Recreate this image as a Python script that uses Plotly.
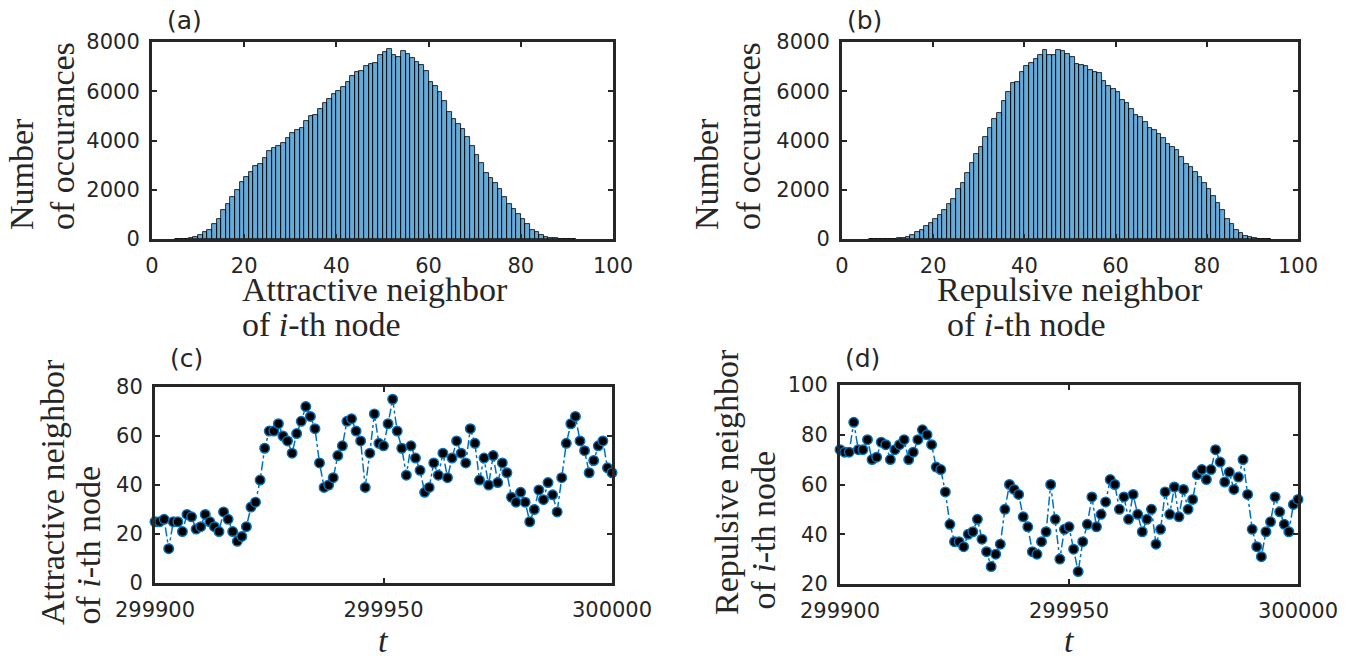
import plotly.graph_objects as go

W, H = 1367, 656
PAGE_OFFSET = 8  # browser default body margin around the figure

# ---------------- data ----------------
attr_bin_left = list(range(5, 92))
attr_counts = [5, 10, 20, 35, 100, 180, 270, 380, 620, 820,
               1160, 1440, 1710, 2010, 2330, 2530, 2740, 2970, 3040, 3280,
               3560, 3690, 3760, 3900, 4100, 4310, 4420, 4510, 4790, 4990,
               5020, 5270, 5540, 5680, 5880, 6020, 6160, 6390, 6630, 6770,
               6840, 7020, 7110, 7150, 7460, 7590, 7700, 7480, 7390, 7650,
               7520, 7340, 7180, 7050, 6840, 6390, 6220, 5950, 5610, 5160,
               4880, 4650, 4450, 4140, 3760, 3420, 3080, 2670, 2460, 2260,
               2050, 1710, 1440, 1230, 1030, 820, 590, 370, 270, 180,
               100, 60, 30, 15, 8, 4, 2]

rep_bin_left = list(range(6, 94))
rep_counts = [3, 5, 5, 8, 10, 15, 25, 40, 100, 180,
              270, 370, 510, 640, 820, 960, 1160, 1440, 1640, 2050,
              2280, 2670, 3080, 3460, 3730, 4140, 4510, 4860, 5130, 5610,
              5950, 6330, 6390, 6800, 7020, 7150, 7320, 7480, 7660, 7460,
              7480, 7690, 7620, 7520, 7390, 7110, 7070, 7020, 6880, 6800,
              6740, 6430, 6220, 6090, 5950, 5650, 5510, 5270, 5020, 4960,
              4750, 4510, 4420, 4280, 4100, 3870, 3730, 3630, 3350, 3050,
              2940, 2740, 2530, 2280, 2050, 1740, 1460, 1160, 820, 620,
              370, 230, 140, 70, 30, 15, 8, 4]

t_values = list(range(299900, 300001))

attr_series = [25, 25, 26, 14, 25, 25, 21, 28, 27, 22,
               23, 28, 25, 23, 21, 29, 26, 21, 17, 19,
               23, 31, 33, 42, 55, 62, 62, 65, 60, 58,
               53, 61, 66, 72, 68, 63, 49, 39, 40, 43,
               52, 56, 66, 67, 62, 58, 39, 53, 69, 57,
               56, 65, 75, 62, 55, 44, 56, 51, 46, 37,
               39, 49, 44, 53, 43, 51, 58, 53, 49, 63,
               57, 42, 51, 40, 52, 41, 49, 45, 35, 33,
               37, 33, 25, 30, 38, 34, 41, 36, 29, 43,
               57, 65, 68, 58, 54, 45, 50, 56, 58, 47, 45]

rep_series = [74, 73, 73, 85, 74, 74, 78, 70, 71, 77,
              76, 70, 74, 76, 78, 70, 73, 78, 82, 80,
              76, 67, 66, 57, 44, 37, 37, 35, 40, 41,
              46, 38, 33, 27, 32, 36, 50, 60, 58, 56,
              47, 43, 33, 32, 37, 41, 60, 46, 30, 42,
              43, 34, 25, 37, 44, 55, 43, 48, 53, 62,
              60, 50, 55, 46, 56, 48, 41, 46, 50, 36,
              42, 57, 48, 59, 47, 58, 50, 54, 64, 66,
              62, 66, 74, 69, 61, 65, 58, 63, 70, 56,
              42, 35, 31, 41, 45, 55, 49, 44, 41, 52, 54]

hist_y_ticks = [0, 2000, 4000, 6000, 8000]
hist_x_ticks = [0, 20, 40, 60, 80, 100]
time_ticks = [299900, 299950, 300000]
attr_y_ticks = [0, 20, 40, 60, 80]
rep_y_ticks = [20, 40, 60, 80, 100]

# ---------------- styling ----------------
BLUE = "#0072BD"
FRAME = "#262626"
TICKFONT = dict(family="DejaVu Sans", size=21, color=FRAME)
SERIF = dict(family="Liberation Serif", size=34, color="#262626")


def px_x(x):
    return (x - PAGE_OFFSET) / W


def px_y(y):
    return 1 - (y - PAGE_OFFSET) / H


def axis(domain_px, rng, tickvals, is_x):
    d = [px_x(domain_px[0]), px_x(domain_px[1])] if is_x else [px_y(domain_px[1]), px_y(domain_px[0])]
    return dict(domain=d, range=rng, tickvals=tickvals, tickformat="d",
                automargin=False,
                showline=True, linewidth=3, linecolor=FRAME, mirror="ticks",
                ticks="inside", ticklen=5, tickwidth=2, tickcolor=FRAME,
                showgrid=False, zeroline=False, tickfont=TICKFONT,
                ticklabelstandoff=6 if is_x else 5)


fig = go.Figure()

fig.add_trace(go.Bar(x=[b + 0.5 for b in attr_bin_left], y=attr_counts, width=1,
                     marker=dict(color="rgba(0,114,189,0.6)", line=dict(color="black", width=0.8)),
                     xaxis="x", yaxis="y"))
fig.add_trace(go.Bar(x=[b + 0.5 for b in rep_bin_left], y=rep_counts, width=1,
                     marker=dict(color="rgba(0,114,189,0.6)", line=dict(color="black", width=0.8)),
                     xaxis="x2", yaxis="y2"))

line_style = dict(color=BLUE, width=1.5, dash="dashdot")
marker_style = dict(color="black", size=9.5, line=dict(color=BLUE, width=1.5))
fig.add_trace(go.Scatter(x=t_values, y=attr_series, mode="lines+markers",
                         line=line_style, marker=marker_style, cliponaxis=False,
                         xaxis="x3", yaxis="y3"))
fig.add_trace(go.Scatter(x=t_values, y=rep_series, mode="lines+markers",
                         line=line_style, marker=marker_style, cliponaxis=False,
                         xaxis="x4", yaxis="y4"))

fig.update_layout(
    width=W, height=H, margin=dict(l=0, r=0, t=0, b=0, pad=0, autoexpand=False),
    paper_bgcolor="white", plot_bgcolor="white", showlegend=False, bargap=0,
    xaxis=axis((152, 613), [0, 100], hist_x_ticks, True),
    yaxis=axis((42, 239), [0, 8000], hist_y_ticks, False),
    xaxis2=axis((842, 1298), [0, 100], hist_x_ticks, True),
    yaxis2=axis((42, 239), [0, 8000], hist_y_ticks, False),
    xaxis3=axis((155, 612), [299900, 300000], time_ticks, True),
    yaxis3=axis((387, 583), [0, 80], attr_y_ticks, False),
    xaxis4=axis((840, 1298), [299900, 300000], time_ticks, True),
    yaxis4=axis((385, 584), [20, 100], rep_y_ticks, False),
)
fig.layout.xaxis.anchor = "y"
fig.layout.yaxis.anchor = "x"
fig.layout.xaxis2.anchor = "y2"
fig.layout.yaxis2.anchor = "x2"
fig.layout.xaxis3.anchor = "y3"
fig.layout.yaxis3.anchor = "x3"
fig.layout.xaxis4.anchor = "y4"
fig.layout.yaxis4.anchor = "x4"

annotations = []


def ann(text, x, y, xanchor="center", yanchor="middle", angle=0, font=SERIF):
    annotations.append(dict(text=text, x=px_x(x), y=px_y(y), xref="paper", yref="paper",
                            xanchor=xanchor, yanchor=yanchor, textangle=angle,
                            showarrow=False, font=font))


PANEL = dict(family="DejaVu Sans", size=25, color=FRAME)
ann("(a)", 184, 20, font=PANEL)
ann("(b)", 864, 20, font=PANEL)
ann("(c)", 187, 358, font=PANEL)
ann("(d)", 862, 358, font=PANEL)

# y titles (rotated)
ann("Number", 21, 232, yanchor="bottom", angle=-90)
ann("of occurances", 62, 232, yanchor="bottom", angle=-90)
ann("Number", 706, 232, yanchor="bottom", angle=-90)
ann("of occurances", 748, 232, yanchor="bottom", angle=-90)
ann("Attractive neighbor", 52, 627, yanchor="bottom", angle=-90)
ann("of <i>i</i>-th node", 88, 627, yanchor="bottom", angle=-90)
ann("Repulsive neighbor", 726, 617, yanchor="bottom", angle=-90)
ann("of <i>i</i>-th node", 763, 612, yanchor="bottom", angle=-90)

# x titles
ann("Attractive neighbor", 240, 289, xanchor="left")
ann("of <i>i</i>-th node", 240, 324, xanchor="left")
ann("Repulsive neighbor", 935, 289, xanchor="left")
ann("of <i>i</i>-th node", 945, 324, xanchor="left")
ann("<i>t</i>", 383, 640)
ann("<i>t</i>", 1069, 640)

fig.update_layout(annotations=annotations)

fig.write_html("out.html")
